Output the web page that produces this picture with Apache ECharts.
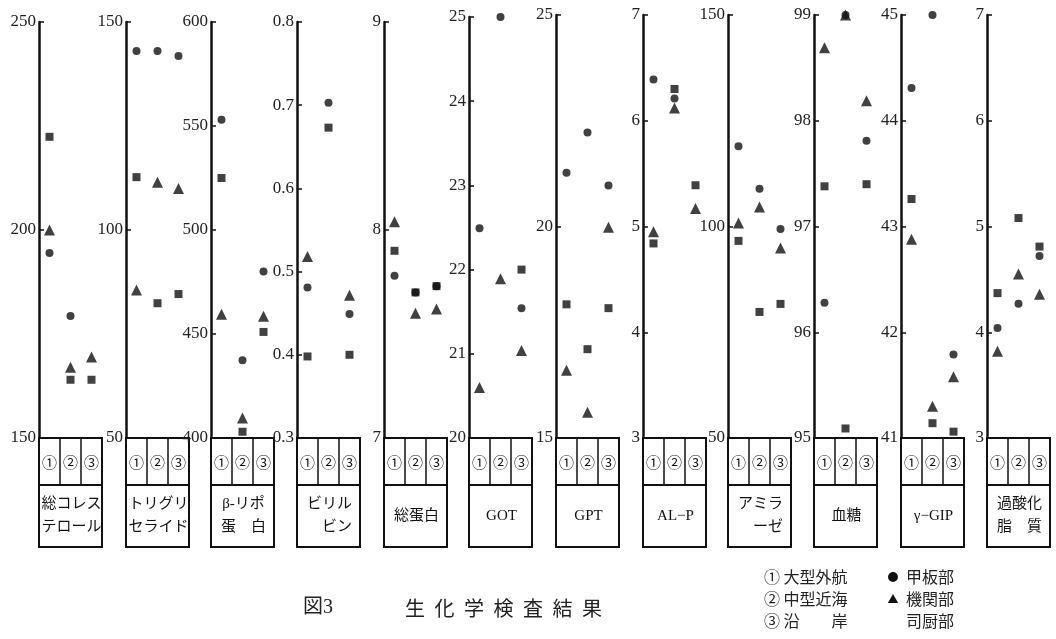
<!DOCTYPE html>
<html>
<head>
<meta charset="utf-8">
<style>
  html, body { margin: 0; padding: 0; background: #fff; }
  #chart { width: 1056px; height: 639px; }
</style>
<script src="https://cdn.jsdelivr.net/npm/echarts@6/dist/echarts.min.js"></script>
</head>
<body>
<div id="chart"></div>
<script>
// 検査項目（各パネルの表題）
const items = ['総コレス\nテロール', 'トリグリ\nセライド', 'β-リポ\n蛋　白', 'ビリル\n　ビン', '総蛋白', 'GOT', 'GPT', 'AL−P', 'アミラ\n　ーゼ', '血糖', 'γ−GIP', '過酸化\n脂　質'];
// 船舶の区分（横軸カテゴリ）
const groups = ['①', '②', '③'];
// 縦軸の範囲と目盛間隔
const axisMin  = [150, 50, 400, 0.3, 7, 20, 15, 3, 50, 95, 41, 3];
const axisMax  = [250, 150, 600, 0.8, 9, 25, 25, 7, 150, 99, 45, 7];
const axisStep = [50, 50, 50, 0.1, 1, 1, 5, 1, 50, 1, 1, 1];

// 甲板部（●） 各項目の ①②③ の値
const deck = [
  [194.5, 179.3, null],
  [143, 143, 141.8],
  [553, 437.4, 480],
  [0.481, 0.703, 0.449],
  [7.78, 7.70, 7.73],
  [22.49, 25.0, 21.54],
  [21.27, 22.22, 20.97],
  [6.39, 6.21, null],
  [119, 108.9, 99.4],
  [96.28, 99.0, 97.81],
  [44.31, 45.0, 41.79],
  [4.04, 4.27, 4.72]
];
// 機関部（▲）
const engine = [
  [200, 167, 169.5],
  [85.6, 111.5, 110],
  [459.5, 409.6, 458.5],
  [0.518, null, 0.4715],
  [8.04, 7.60, 7.62],
  [20.6, 21.89, 21.04],
  [16.6, 15.61, 19.98],
  [4.95, 6.12, 5.17],
  [100.8, 104.6, 94.9],
  [98.69, 99.0, 98.19],
  [42.88, 41.3, 41.58],
  [3.82, 4.55, 4.36]
];
// 司厨部（■）
const galley = [
  [222.4, 164, 164],
  [112.7, 82.4, 84.6],
  [525, 403, 451],
  [0.398, 0.673, 0.40],
  [7.90, 7.70, 7.73],
  [null, null, 22.0],
  [18.16, 17.1, 18.07],
  [4.84, 6.30, 5.39],
  [96.6, 79.8, 81.7],
  [97.38, 95.09, 97.4],
  [43.26, 41.14, 41.06],
  [4.37, 5.08, 4.81]
];

// 凡例・表題の文字
const legendGroups = ['① 大型外航', '② 中型近海', '③ 沿　　岸'];
const legendCrews = ['甲板部', '機関部', '司厨部'];
const legendMarks = ['●', '▲', ''];
const figNo = '図3';
const figTitle = '生化学検査結果';

// レイアウト
const panelLeft = [39, 126, 211, 297, 384, 469, 556, 643, 728, 814, 901, 987];
const panelTop  = [22, 22, 22, 22, 22, 17, 15, 15, 15, 15, 15, 15];
const panelW = 63;
const plotBottom = 438;
const rowH = 47;
const boxH = 109;

const INK = '#111';
const SERIF = 'Liberation Serif';
const JP = '"Noto Sans CJK JP", sans-serif';
const MIXED = '"Liberation Serif", "Noto Sans CJK JP", serif';

const crews = [
  { name: '甲板部', vals: deck, symbol: 'circle', size: 8 },
  { name: '機関部', vals: engine, symbol: 'triangle', size: 11 },
  { name: '司厨部', vals: galley, symbol: 'rect', size: 8 }
];

const grids = [], xAxes = [], yAxes = [], series = [], graphics = [];

items.forEach((item, i) => {
  const left = panelLeft[i];
  const top = panelTop[i];
  grids.push({
    left: left, top: top, width: panelW, height: plotBottom - top,
    outerBoundsMode: 'none', containLabel: false
  });
  xAxes.push({
    gridIndex: i, type: 'category', data: groups, boundaryGap: true, show: false
  });
  const step = axisStep[i];
  yAxes.push({
    gridIndex: i, type: 'value', min: axisMin[i], max: axisMax[i], interval: step,
    axisLine: { show: true, lineStyle: { color: INK, width: 2.5 } },
    axisTick: { show: true, inside: true, length: 5, lineStyle: { color: INK, width: 1.5 } },
    splitLine: { show: false },
    axisLabel: {
      fontFamily: SERIF, fontSize: 17, color: '#222', margin: 3,
      formatter: v => step < 1 ? v.toFixed(1) : String(Math.round(v))
    }
  });
  crews.forEach(c => {
    series.push({
      type: 'scatter', name: c.name, xAxisIndex: i, yAxisIndex: i,
      data: c.vals[i], symbol: c.symbol, symbolSize: c.size,
      itemStyle: { color: INK }, clip: false, silent: true
    });
  });

  // 下部の区分表
  const y0 = plotBottom;
  graphics.push({
    type: 'rect', shape: { x: left, y: y0, width: panelW, height: boxH },
    style: { fill: 'none', stroke: INK, lineWidth: 2 }, silent: true
  });
  graphics.push({
    type: 'line', shape: { x1: left, y1: y0 + rowH, x2: left + panelW, y2: y0 + rowH },
    style: { stroke: INK, lineWidth: 2 }, silent: true
  });
  for (let k = 1; k < 3; k++) {
    const x = left + panelW * k / 3;
    graphics.push({
      type: 'line', shape: { x1: x, y1: y0, x2: x, y2: y0 + rowH },
      style: { stroke: INK, lineWidth: 1.5 }, silent: true
    });
  }
  groups.forEach((g, k) => {
    graphics.push({
      type: 'text', x: left + panelW * (k + 0.5) / 3, y: y0 + rowH / 2 + 1,
      style: { text: g, font: '15px ' + JP, fill: INK, align: 'center', verticalAlign: 'middle' },
      silent: true
    });
  });
  graphics.push({
    type: 'text', x: left + panelW / 2 + 1, y: y0 + rowH + (boxH - rowH) / 2,
    style: {
      text: item, font: '15px ' + MIXED, fill: INK, align: 'center', verticalAlign: 'middle',
      lineHeight: 23
    },
    silent: true
  });
});

// 表題
graphics.push({
  type: 'text', x: 303, y: 608,
  style: { text: figNo, font: '20px ' + MIXED, fill: '#222', verticalAlign: 'middle' }, silent: true
});
figTitle.split('').forEach((ch, k) => {
  graphics.push({
    type: 'text', x: 405 + k * 29.5, y: 608,
    style: { text: ch, font: '20px ' + JP, fill: '#222', verticalAlign: 'middle' }, silent: true
  });
});

// 凡例
legendGroups.forEach((t, k) => {
  graphics.push({
    type: 'text', x: 764, y: 577 + k * 22,
    style: { text: t, font: '16px ' + JP, fill: '#222', verticalAlign: 'middle' }, silent: true
  });
});
legendCrews.forEach((t, k) => {
  if (legendMarks[k]) {
    graphics.push({
      type: 'text', x: 893, y: 577 + k * 22,
      style: { text: legendMarks[k], font: '11px ' + JP, fill: INK, align: 'center', verticalAlign: 'middle' },
      silent: true
    });
  }
  graphics.push({
    type: 'text', x: 906, y: 577 + k * 22,
    style: { text: t, font: '16px ' + JP, fill: '#222', verticalAlign: 'middle' }, silent: true
  });
});

const chart = echarts.init(document.getElementById('chart'), null, { renderer: 'canvas' });
chart.setOption({
  backgroundColor: '#fff',
  animation: false,
  grid: grids,
  xAxis: xAxes,
  yAxis: yAxes,
  series: series,
  graphic: graphics
});
</script>
</body>
</html>
